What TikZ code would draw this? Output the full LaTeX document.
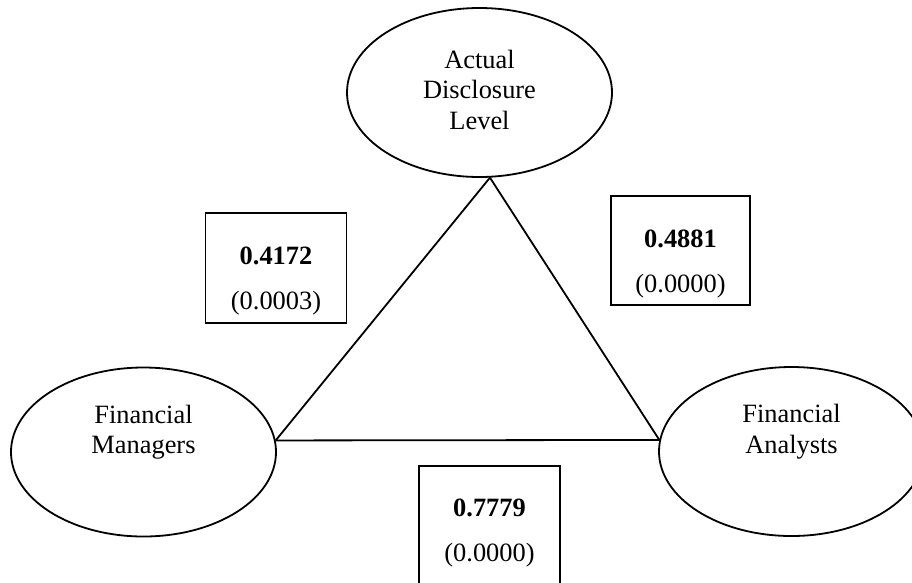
\documentclass[tikz,border=0pt]{standalone}
\usepackage{fontspec}
\setmainfont{Liberation Serif}
\usetikzlibrary{shapes.geometric, positioning}

\begin{document}
\begin{tikzpicture}[
    x=1pt, y=-1pt, % one unit is one pixel, y runs downwards
    actor/.style={ellipse, draw, line width=1.8pt, minimum width=265pt, minimum height=169pt, inner sep=0pt},
    actor_text/.style={align=center, inner sep=0pt, font=\fontsize{26.4}{30.5}\selectfont},
    valbox/.style={draw, line width=1.8pt, minimum width=141pt, minimum height=110pt, anchor=north, inner sep=0pt},
    val_text/.style={align=center, anchor=north, inner sep=0pt, font=\fontsize{26.4}{30}\selectfont},
    link/.style={black, line width=1.8pt}
]

% Keep the page at the size of the figure
\clip (0,0) rectangle (912,582);

% The three groups
\node[actor] (adl) at (479.5,92.5) {};
\node[actor_text] at ([yshift=3pt]adl.center) {Actual\\Disclosure\\Level};

\node[actor] (fm) at (143.5,452) {};
\node[actor_text] at ([yshift=20pt]fm.center) {Financial\\Managers};

\node[actor] (fa) at (791.5,451.5) {};
\node[actor_text] at ([yshift=20pt]fa.center) {Financial\\Analysts};

% Triangle between the groups
\draw[link] (adl.277.7) -- (fm.5.2);
\draw[link] (fm.5.2) -- (fa.175);
\draw[link] (fa.175) -- (adl.277.7);

% Correlations (p-values)
\node[valbox] (fmbox) at (276,212) {};
\node[val_text] at ([yshift=-35pt]fmbox.north) {\textbf{0.4172}\\[15pt](0.0003)};

\node[valbox, minimum width=139pt, minimum height=109pt] (fabox) at (680.5,195) {};
\node[val_text] at ([yshift=-35pt]fabox.north) {\textbf{0.4881}\\[15pt](0.0000)};

\node[valbox, minimum height=125pt] (fmfabox) at (489.5,465) {};
\node[val_text] at ([yshift=-34pt]fmfabox.north) {\textbf{0.7779}\\[15pt](0.0000)};

\end{tikzpicture}
\end{document}
